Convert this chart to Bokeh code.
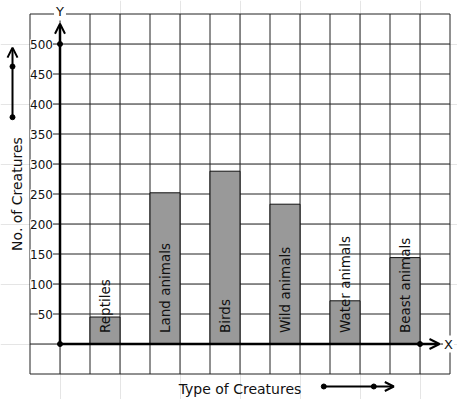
import math
from bokeh.plotting import figure
from bokeh.models import Range1d, Arrow, OpenHead
from bokeh.core.properties import value
from bokeh.embed import file_html
from bokeh.resources import INLINE

# ---------------- data ----------------
categories = ["Reptiles", "Land animals", "Birds", "Wild animals", "Water animals", "Beast animals"]
counts = [45, 252, 288, 233, 72, 144]
y_ticks = [50, 100, 150, 200, 250, 300, 350, 400, 450, 500]
y_tick_labels = ["50", "100", "150", "200", "250", "300", "350", "400", "450", "500"]
grid_cols = list(range(-1, 14))          # vertical grid lines (category cells)
grid_rows = list(range(-50, 551, 50))    # horizontal grid lines (value steps)
x_title = "Type of Creatures"
y_title = "No. of Creatures"

# ---------------- layout ----------------
W, H = 457, 399
X0, CELL = 59.5, 30.0      # figure px = X0 + CELL * u
Y0, SCALE = 343.5, 0.6     # figure py = Y0 - SCALE * v
FONT = value("DejaVu Sans")
INK = "#111111"
GRID = "#222222"

p = figure(width=W, height=H,
           x_range=Range1d(-X0 / CELL, (W - X0) / CELL),
           y_range=Range1d((Y0 - H) / SCALE, Y0 / SCALE),
           output_backend="svg", toolbar_location=None, title=None,
           x_axis_location=None, y_axis_location=None,
           min_border=0, outline_line_color=None,
           background_fill_color="white", border_fill_color="white")

# grid
n_c, n_r = len(grid_cols), len(grid_rows)
p.segment(x0=grid_cols, y0=[grid_rows[0]] * n_c, x1=grid_cols, y1=[grid_rows[-1]] * n_c,
          line_color=GRID, line_width=1)
p.segment(x0=[grid_cols[0]] * n_r, y0=grid_rows, x1=[grid_cols[-1]] * n_r, y1=grid_rows,
          line_color=GRID, line_width=1)

# bars
n = len(categories)
bar_x = [1.5 + 2 * i for i in range(n)]
p.vbar(x=bar_x, width=1, bottom=0, top=counts,
       fill_color="#999999", line_color=INK, line_width=1)

# bar labels
p.text(x=bar_x, y=[0] * n, text=categories, angle=math.pi / 2,
       text_align="left", text_baseline="middle", y_offset=-11,
       text_font=FONT, text_font_size="13.5px", text_color=INK)

# axes with arrow heads
AX_X_END, AX_Y_END = 12.65, 533.7
p.add_layout(Arrow(end=OpenHead(size=10, line_width=2, line_color="black"),
                   x_start=0, y_start=0, x_end=AX_X_END, y_end=0,
                   line_width=2.5, line_color="black"))
p.add_layout(Arrow(end=OpenHead(size=10, line_width=2, line_color="black"),
                   x_start=0, y_start=0, x_end=0, y_end=AX_Y_END,
                   line_width=2.5, line_color="black"))
p.scatter(x=[0, 0, 12], y=[0, 500, 0], size=5, color="black")

# y tick labels
p.text(x=[0] * len(y_ticks), y=y_ticks, text=y_tick_labels,
       text_align="right", text_baseline="middle", x_offset=-7,
       background_fill_color="white",
       text_font=FONT, text_font_size="12px", text_color=INK)

# axis letters
p.text(x=[0], y=[550], text=["Y"], text_align="center", text_baseline="middle",
       y_offset=-3, background_fill_color="white", padding=2,
       text_font=FONT, text_font_size="13px", text_color=INK)
p.text(x=[12.95], y=[0], text=["X"], text_align="center", text_baseline="middle",
       background_fill_color="white", padding=1,
       text_font=FONT, text_font_size="13px", text_color=INK)

# titles
p.text(x=[6], y=[-74.2], text=[x_title], text_align="center", text_baseline="alphabetic",
       text_font=FONT, text_font_size="14px", text_color=INK)
p.text(x=[-1.427], y=[250], text=[y_title], angle=math.pi / 2,
       text_align="center", text_baseline="alphabetic",
       text_font=FONT, text_font_size="14px", text_color=INK)

# decorative arrows beside the titles
LA_X = -1.583
p.add_layout(Arrow(end=OpenHead(size=10, line_width=2, line_color="black"),
                   x_start=LA_X, y_start=378, x_end=LA_X, y_end=494,
                   line_width=2, line_color="black"))
p.scatter(x=[LA_X, LA_X], y=[378, 462.5], size=5, color="black")
BA_Y = -70.83
p.add_layout(Arrow(end=OpenHead(size=9, line_width=2, line_color="black"),
                   x_start=8.793, y_start=BA_Y, x_end=11.127, y_end=BA_Y,
                   line_width=2, line_color="black"))
p.scatter(x=[8.793, 10.46], y=[BA_Y, BA_Y], size=5, color="black")

open("out.html", "w").write(file_html(p, INLINE))
